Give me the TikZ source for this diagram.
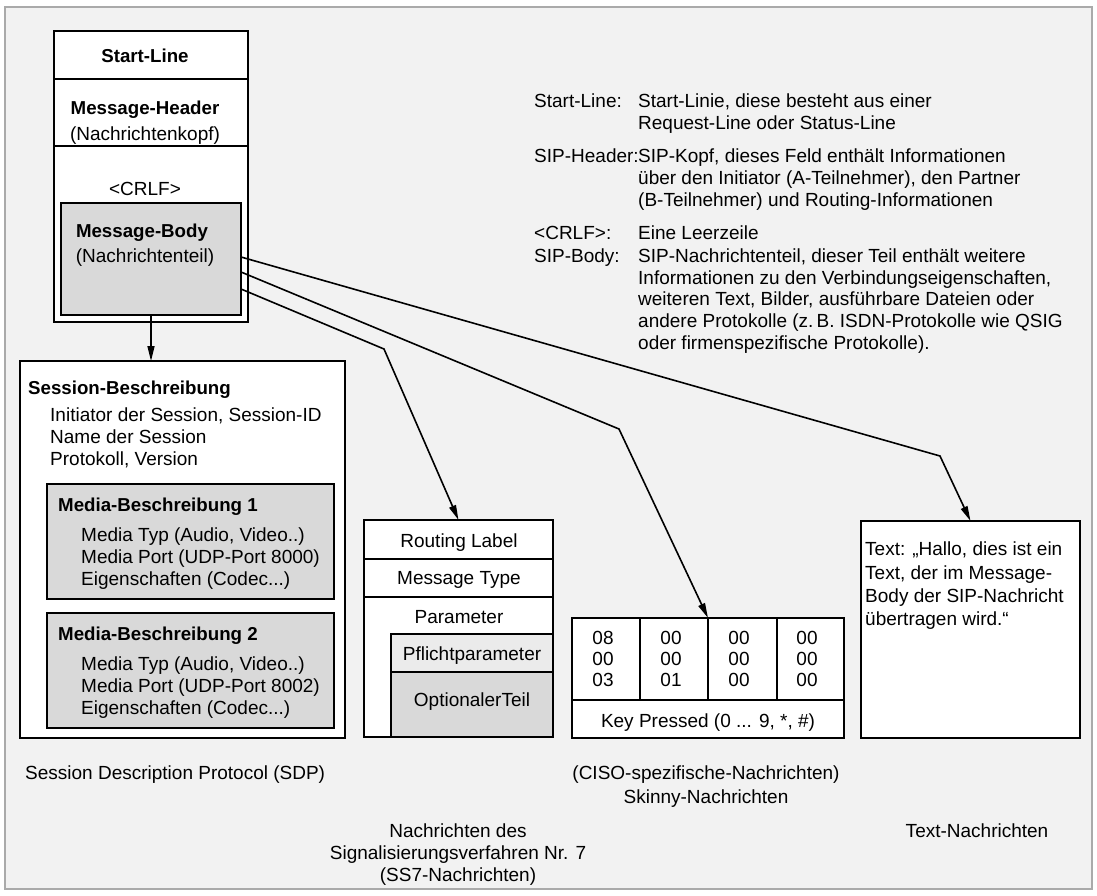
\documentclass[tikz,border=0pt]{standalone}
\usepackage{fontspec}
\setmainfont{Liberation Sans}
\usetikzlibrary{arrows.meta,fit}
\definecolor{pagebg}{HTML}{F2F2F2}
\definecolor{framegray}{HTML}{AAAAAA}
\definecolor{shade}{HTML}{D9D9D9}
\definecolor{lightshade}{HTML}{EBEBEB}
\begin{document}
\begin{tikzpicture}[x=1pt,y=-1pt,
  font=\fontsize{19}{22}\selectfont,
  box/.style={draw=black,line width=1.8pt,fill=white,inner sep=0pt,outer sep=0pt},
  greybox/.style={box,fill=shade},
  lightbox/.style={box,fill=lightshade},
  tl/.style={inner sep=0pt,anchor=base west},
  tc/.style={inner sep=0pt,anchor=base},
  bold/.style={font=\fontsize{18.7}{22}\selectfont\bfseries},
  link/.style={draw=black,line width=1.6pt,line join=miter},
  arr/.style={link,-{Triangle[length=15pt,width=7pt]}}
]
% page and frame
\fill[white] (0,0) rectangle (1097,895);
\useasboundingbox (0,0) rectangle (1097,895);
\draw[framegray,fill=pagebg,line width=1.5pt] (5,7) rectangle (1092,889);

% SIP message structure
\node[box,fit={(54,31) (248,79)}] (startsec) {};
\node[box,fit={(54,79) (248,146)}] (headsec) {};
\node[box,fit={(54,146) (248,322)}] (bodysec) {};
\node[greybox,fit={(61,203) (241,315)}] (body) {};
\node[tc,bold] (tStart) at (145,62) {Start-Line};
\node[tc,bold] (tHead) at (145,114) {Message-Header};
\node[tc] (tHead2) at (145,140) {(Nachrichtenkopf)};
\node[tc] (tCrlf) at (145,195) {<CRLF>};
\node[tc,bold] (tBody) at (142,237) {Message-Body};
\node[tc] (tBody2) at (145,262) {(Nachrichtenteil)};

% legend
\node[tl] (k1) at (534,107) {Start-Line:};
\node[tl] (v1a) at (638,107) {Start-Linie, diese besteht aus einer};
\node[tl] (v1b) at (638,129) {Request-Line oder Status-Line};
\node[tl] (k2) at (534,162) {SIP-Header:};
\node[tl] (v2a) at (638,162) {SIP-Kopf, dieses Feld enthält Informationen};
\node[tl] (v2b) at (638,184) {über den Initiator (A-Teilnehmer), den Partner};
\node[tl] (v2c) at (638,206) {(B-Teilnehmer) und Routing-Informationen};
\node[tl] (k3) at (534,239) {<CRLF>:};
\node[tl] (v3a) at (638,239) {Eine Leerzeile};
\node[tl] (k4) at (534,262) {SIP-Body:};
\node[tl] (v4a) at (638,262) {SIP-Nachrichtenteil, dieser Teil enthält weitere};
\node[tl] (v4b) at (638,284) {Informationen zu den Verbindungseigenschaften,};
\node[tl] (v4c) at (638,305) {weiteren Text, Bilder, ausführbare Dateien oder};
\node[tl] (v4d) at (638,327) {andere Protokolle (z.\,B. ISDN-Protokolle wie QSIG};
\node[tl] (v4e) at (638,349) {oder firmenspezifische Protokolle).};

% SDP
\node[box,fit={(20,361) (345,738)}] (sdp) {};
\node[tl,bold] (sdpT) at (28,394) {Session-Beschreibung};
\node[tl] (sdp1) at (50,421) {Initiator der Session, Session-ID};
\node[tl] (sdp2) at (50,443) {Name der Session};
\node[tl] (sdp3) at (50,465) {Protokoll, Version};
\node[greybox,fit={(47,484) (334,599)}] (media1) {};
\node[tl,bold] (m1T) at (58,511) {Media-Beschreibung 1};
\node[tl] (m1a) at (81,541) {Media Typ (Audio, Video..)};
\node[tl] (m1b) at (81,563) {Media Port (UDP-Port 8000)};
\node[tl] (m1c) at (81,585) {Eigenschaften (Codec...)};
\node[greybox,fit={(47,613) (334,728)}] (media2) {};
\node[tl,bold] (m2T) at (58,640) {Media-Beschreibung 2};
\node[tl] (m2a) at (81,670) {Media Typ (Audio, Video..)};
\node[tl] (m2b) at (81,692) {Media Port (UDP-Port 8002)};
\node[tl] (m2c) at (81,714) {Eigenschaften (Codec...)};

% SS7
\node[box,fit={(364,520) (553,559)}] (ss7) {};
\node[box,fit={(364,559) (553,597)}] (ss7type) {};
\node[box,fit={(364,597) (553,737)}] (ss7par) {};
\node[lightbox,fit={(391,634) (553,672)}] (pflicht) {};
\node[greybox,fit={(391,672) (553,737)}] (optional) {};
\node[tc] (sRL) at (459,547) {Routing Label};
\node[tc] (sMT) at (459,584) {Message Type};
\node[tc] (sPa) at (459,623) {Parameter};
\node[tc] (sPf) at (472,660) {Pflichtparameter};
\node[tc] (sOp) at (472,706) {OptionalerTeil};

% Skinny
\node[box,fit={(572,618) (844,700)}] (skinny) {};
\node[box,fit={(572,618) (640,700)}] (c1) {};
\node[box,fit={(640,618) (708,700)}] (c2) {};
\node[box,fit={(708,618) (777,700)}] (c3) {};
\node[box,fit={(777,618) (844,700)}] (c4) {};
\node[box,fit={(572,700) (844,738)}] (keyrow) {};
\node[tc] (n11) at (603,644) {08};
\node[tc] (n12) at (603,665) {00};
\node[tc] (n13) at (603,686) {03};
\node[tc] (n21) at (671,644) {00};
\node[tc] (n22) at (671,665) {00};
\node[tc] (n23) at (671,686) {01};
\node[tc] (n31) at (739,644) {00};
\node[tc] (n32) at (739,665) {00};
\node[tc] (n33) at (739,686) {00};
\node[tc] (n41) at (807,644) {00};
\node[tc] (n42) at (807,665) {00};
\node[tc] (n43) at (807,686) {00};
\node[tc] (kp) at (708,727) {Key Pressed (0 ... 9, *, \#)};

% plain text message
\node[box,fit={(861,521) (1080,738)}] (textmsg) {};
\node[tl] (tx1) at (865,555) {Text: „Hallo, dies ist ein};
\node[tl] (tx2) at (865,579) {Text, der im Message-};
\node[tl] (tx3) at (865,602) {Body der SIP-Nachricht};
\node[tl] (tx4) at (865,625) {übertragen wird.“};

% captions
\node[tl] (capSdp) at (25,779) {Session Description Protocol (SDP)};
\node[tc] (capSk1) at (706,779) {(CISO-spezifische-Nachrichten)};
\node[tc] (capSk2) at (706,803) {Skinny-Nachrichten};
\node[tc] (capSs1) at (458,837) {Nachrichten des};
\node[tc] (capSs2) at (458,859) {Signalisierungsverfahren Nr. 7};
\node[tc] (capSs3) at (458,881) {(SS7-Nachrichten)};
\node[tc] (capTx) at (977,837) {Text-Nachrichten};

% connectors from the message body
\coordinate (bendSs7) at (384,349);
\coordinate (bendSk) at (619,429);
\coordinate (bendTx) at (940,456);
\draw[arr] (body.south) -- (body.south |- sdp.north);
\draw[arr] ([yshift=-86pt]body.north east) -- (bendSs7) -- (ss7.north);
\draw[arr] ([yshift=-69pt]body.north east) -- (bendSk) -- (skinny.north);
\draw[arr] ([yshift=-54pt]body.north east) -- (bendTx) -- (textmsg.north);
\end{tikzpicture}
\end{document}
